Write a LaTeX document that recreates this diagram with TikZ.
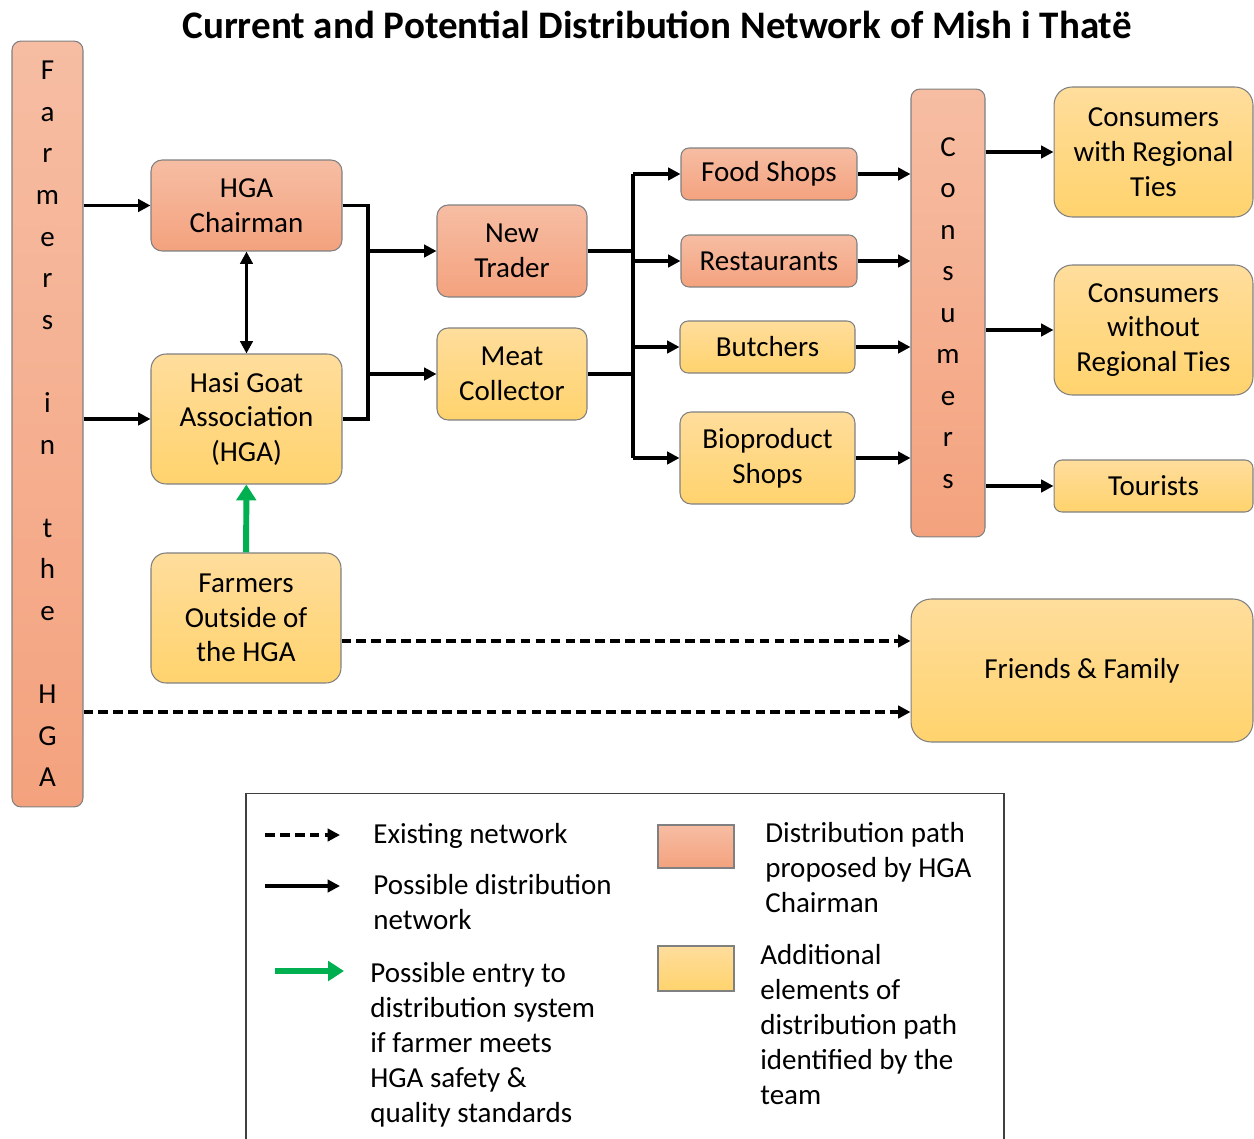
\documentclass[tikz,border=0pt]{standalone}
\usepackage{fontspec}
\setmainfont{Carlito}
\usetikzlibrary{arrows.meta}
\definecolor{salT}{HTML}{F6BDA3}
\definecolor{salB}{HTML}{F4A27E}
\definecolor{yelT}{HTML}{FFDD9C}
\definecolor{yelB}{HTML}{FFD36D}
\definecolor{grn}{HTML}{00B050}
\begin{document}
\begin{tikzpicture}[x=0.02cm,y=-0.02cm,
  box/.style={draw=black!50, line width=0.6pt, rounded corners=0.22cm, align=center, inner sep=0pt, font=\fontsize{16.5}{19.8}\selectfont},
  sal/.style={box, top color=salT, bottom color=salB},
  yel/.style={box, top color=yelT, bottom color=yelB},
  arr/.style={line width=2pt, -{Triangle[length=7pt,width=7pt]}},
  ln/.style={line width=2pt},
  dsh/.style={arr, dash pattern=on 5.5pt off 3pt},
  garr/.style={draw=grn, line width=3.4pt, -{Triangle[length=9pt,width=11pt]}},
  lab/.style={anchor=base west, align=left, inner sep=0pt, font=\fontsize{16.5}{19.8}\selectfont}
]
\useasboundingbox (0,0) rectangle (1254,1139);

\node[font=\fontsize{22.2}{26}\selectfont\bfseries, inner sep=0pt] (title) at (657,25) {Current and Potential Distribution Network of Mish i Thatë};

% main nodes
\node[sal, minimum width=1.42cm, minimum height=15.32cm, rounded corners=0.18cm, font=\fontsize{16.5}{23.67}\selectfont] (farmers) at (47.5,424) {F\\a\\r\\m\\e\\r\\s\\\mbox{}\\i\\n\\\mbox{}\\t\\h\\e\\\mbox{}\\H\\G\\A};
\node[sal, minimum width=1.48cm, minimum height=8.96cm, rounded corners=0.18cm, font=\fontsize{16.5}{23.6}\selectfont] (cons) at (948,313) {C\\o\\n\\s\\u\\m\\e\\r\\s};

\node[sal, minimum width=3.82cm, minimum height=1.82cm] (chair) at (246.5,205.5) {HGA\\Chairman};
\node[yel, minimum width=3.82cm, minimum height=2.6cm, rounded corners=0.3cm] (hga) at (246.5,419) {Hasi Goat\\Association\\(HGA)};
\node[yel, minimum width=3.8cm, minimum height=2.6cm, rounded corners=0.3cm] (outside) at (246,618) {Farmers\\Outside of\\the HGA};

\node[sal, minimum width=3.0cm, minimum height=1.84cm] (trader) at (512,251) {New\\Trader};
\node[yel, minimum width=3.0cm, minimum height=1.84cm] (meat) at (512,374) {Meat\\Collector};

\node[sal, minimum width=3.52cm, minimum height=1.04cm, rounded corners=0.16cm] (food) at (769,174) {Food Shops};
\node[sal, minimum width=3.52cm, minimum height=1.04cm, rounded corners=0.16cm] (rest) at (769,261) {Restaurants};
\node[yel, minimum width=3.5cm, minimum height=1.04cm, rounded corners=0.16cm] (butch) at (767.5,347) {Butchers};
\node[yel, minimum width=3.5cm, minimum height=1.84cm] (bio) at (767.5,458) {Bioproduct\\Shops};

\node[yel, minimum width=3.98cm, minimum height=2.6cm, rounded corners=0.36cm] (cwrt) at (1153.5,152) {Consumers\\with Regional\\Ties};
\node[yel, minimum width=3.98cm, minimum height=2.6cm, rounded corners=0.36cm] (cwort) at (1153.5,330) {Consumers\\without\\Regional Ties};
\node[yel, minimum width=3.98cm, minimum height=1.04cm, rounded corners=0.16cm] (tour) at (1153.5,486) {Tourists};
\node[yel, minimum width=6.84cm, minimum height=2.86cm, rounded corners=0.4cm] (friends) at (1082,670.5) {Friends \& Family};

% helper coordinates
\coordinate (b1) at (368,0);
\coordinate (b2) at (633,0);
\coordinate (d1) at (0,641);
\coordinate (d2) at (0,712);

% connectors
\draw[arr] (farmers.east |- chair) -- (chair);
\draw[arr] (farmers.east |- hga) -- (hga);
\draw[line width=2pt, {Triangle[length=7pt,width=7pt]}-{Triangle[length=7pt,width=7pt]}] (chair) -- (hga);
\draw[garr] (outside) -- (hga);

\draw[ln] (chair.east) -| (b1 |- hga.east) -- (hga.east);
\draw[arr] (b1 |- trader) -- (trader);
\draw[arr] (b1 |- meat) -- (meat);

\draw[ln] (trader.east) -- (b2 |- trader);
\draw[ln] (meat.east) -- (b2 |- meat);
\draw[ln] (b2 |- food) -- (b2 |- bio);
\draw[arr] (b2 |- food) -- (food);
\draw[arr] (b2 |- rest) -- (rest);
\draw[arr] (b2 |- butch) -- (butch);
\draw[arr] (b2 |- bio) -- (bio);

\draw[arr] (food.east) -- (food.east -| cons.west);
\draw[arr] (rest.east) -- (rest.east -| cons.west);
\draw[arr] (butch.east) -- (butch.east -| cons.west);
\draw[arr] (bio.east) -- (bio.east -| cons.west);

\draw[arr] (cons.east |- cwrt) -- (cwrt);
\draw[arr] (cons.east |- cwort) -- (cwort);
\draw[arr] (cons.east |- tour) -- (tour);

\draw[dsh] (outside.east |- d1) -- (friends.west |- d1);
\draw[dsh] (farmers.east |- d2) -- (friends.west |- d2);

% legend
\draw[black!75, line width=0.8pt] (246,1150) -- (246,793.5) -- (1004,793.5) -- (1004,1150);
\coordinate (l1a) at (265,835); \coordinate (l1b) at (340,835);
\coordinate (l2a) at (265,886); \coordinate (l2b) at (340,886);
\coordinate (l3a) at (275,971); \coordinate (l3b) at (344,971);
\draw[dsh] (l1a) -- (l1b);
\draw[arr] (l2a) -- (l2b);
\draw[garr] (l3a) -- (l3b);
\node[lab] (t1) at (373,843) {Existing network};
\node[lab] (t2) at (373,929) {Possible distribution\\network};
\node[lab] (t3) at (370,1122) {Possible entry to\\distribution system\\if farmer meets\\HGA safety \&\\quality standards};
\node[sal, rounded corners=0pt, minimum width=1.52cm, minimum height=0.86cm] (sq1) at (696,846.5) {};
\node[yel, rounded corners=0pt, minimum width=1.52cm, minimum height=0.9cm] (sq2) at (696,968.5) {};
\node[lab] (t4) at (765,912) {Distribution path\\proposed by HGA\\Chairman};
\node[lab] (t5) at (760,1104) {Additional\\elements of\\distribution path\\identified by the\\team};
\end{tikzpicture}
\end{document}
